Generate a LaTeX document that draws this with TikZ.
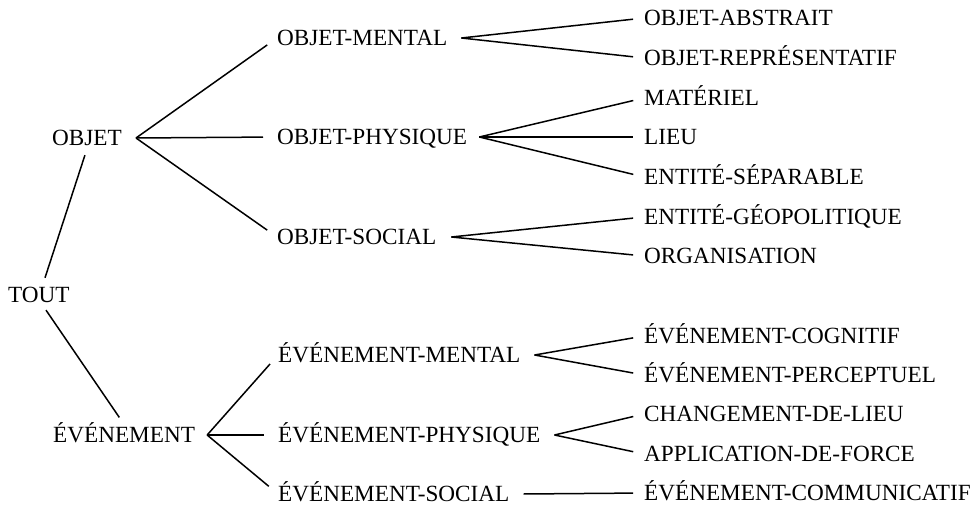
\documentclass[tikz,border=0pt]{standalone}
\usepackage{fontspec}
\setmainfont{Liberation Serif}
\begin{document}
\begin{tikzpicture}[x=1pt,y=-1pt,
  lbl/.style={inner sep=0pt, anchor=west, text height=15pt, text depth=0pt,
              font=\fontsize{23.2}{28}\selectfont},
  link/.style={line width=1.5pt, shorten >=11pt}]
\useasboundingbox (0,0) rectangle (980,508);

% root and first level
\node[lbl] (tout)  at (8,295)  {TOUT};
\node[lbl] (objet) at (52,138) {OBJET};
\node[lbl] (ev)    at (53,435) {ÉVÉNEMENT};

% second level
\node[lbl] (om) at (277,38)  {OBJET-MENTAL};
\node[lbl] (op) at (277,137) {OBJET-PHYSIQUE};
\node[lbl] (os) at (277,237) {OBJET-SOCIAL};
\node[lbl] (em) at (278,355) {ÉVÉNEMENT-MENTAL};
\node[lbl] (ep) at (278,435) {ÉVÉNEMENT-PHYSIQUE};
\node[lbl] (es) at (278,494) {ÉVÉNEMENT-SOCIAL};

% leaves
\node[lbl] (l1)  at (644,18)  {OBJET-ABSTRAIT};
\node[lbl] (l2)  at (644,58)  {OBJET-REPRÉSENTATIF};
\node[lbl] (l3)  at (644,98)  {MATÉRIEL};
\node[lbl] (l4)  at (644,137) {LIEU};
\node[lbl] (l5)  at (644,177) {ENTITÉ-SÉPARABLE};
\node[lbl] (l6)  at (644,217) {ENTITÉ-GÉOPOLITIQUE};
\node[lbl] (l7)  at (644,256) {ORGANISATION};
\node[lbl] (l8)  at (644,336) {ÉVÉNEMENT-COGNITIF};
\node[lbl] (l9)  at (644,375) {ÉVÉNEMENT-PERCEPTUEL};
\node[lbl] (l10) at (644,414) {CHANGEMENT-DE-LIEU};
\node[lbl] (l11) at (644,454) {APPLICATION-DE-FORCE};
\node[lbl] (l12) at (644,493) {ÉVÉNEMENT-COMMUNICATIF};

% branching points just right of each parent
\coordinate (objet-f) at ([xshift=14pt]objet.east);
\coordinate (ev-f)    at ([xshift=12pt]ev.east);
\coordinate (om-f)    at ([xshift=14pt]om.east);
\coordinate (op-f)    at ([xshift=12pt]op.east);
\coordinate (os-f)    at ([xshift=15pt]os.east);
\coordinate (em-f)    at ([xshift=14pt]em.east);
\coordinate (ep-f)    at ([xshift=14pt]ep.east);
\coordinate (es-f)    at ([xshift=14pt]es.east);

% root links
\draw[line width=1.5pt, shorten <=10pt, shorten >=10pt]
  ([xshift=3pt]tout.north) -- ([xshift=1pt]objet.south);
\draw[line width=1.5pt, shorten <=9pt, shorten >=12pt]
  ([xshift=2pt]tout.south) -- ([xshift=2pt]ev.north);

% OBJET subtree
\draw[link, shorten >=12pt] (objet-f) -- (om.west);
\draw[link, shorten >=14pt] (objet-f) -- (op.west);
\draw[link, shorten >=12pt] (objet-f) -- (os.west);
\draw[link] (om-f) -- (l1.west);
\draw[link] (om-f) -- (l2.west);
\draw[link] (op-f) -- (l3.west);
\draw[link] (op-f) -- (l4.west);
\draw[link] (op-f) -- (l5.west);
\draw[link] (os-f) -- (l6.west);
\draw[link] (os-f) -- (l7.west);

% ÉVÉNEMENT subtree
\draw[link, shorten >=12pt] (ev-f) -- (em.west);
\draw[link, shorten >=14pt] (ev-f) -- (ep.west);
\draw[link, shorten >=12pt] (ev-f) -- (es.west);
\draw[link] (em-f) -- (l8.west);
\draw[link] (em-f) -- (l9.west);
\draw[link] (ep-f) -- (l10.west);
\draw[link] (ep-f) -- (l11.west);
\draw[link] (es-f) -- (l12.west);
\end{tikzpicture}
\end{document}
